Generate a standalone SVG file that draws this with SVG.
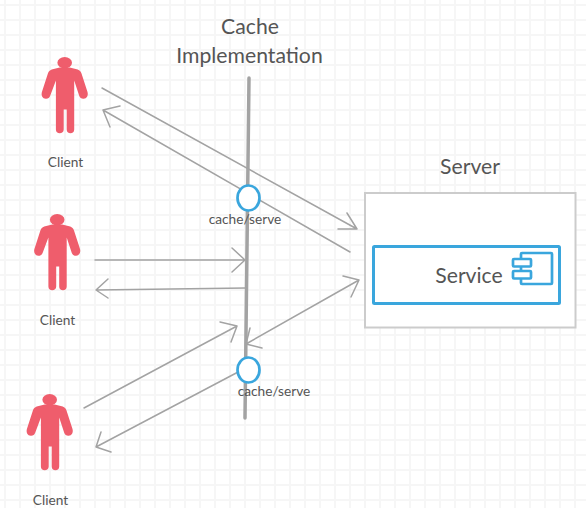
<svg xmlns="http://www.w3.org/2000/svg" width="586" height="508" viewBox="0 0 586 508">
<defs>
<style>
text{font-family:Lato,"Liberation Sans",sans-serif;fill:#555}
.t{font-size:21.200px;text-anchor:middle}
.s{font-size:13.700px;text-anchor:middle}
.c{fill:none;stroke:#a3a3a3;stroke-width:1.500;stroke-linecap:round;stroke-linejoin:round}
.b{fill:#fff;stroke:#3aa6dd;stroke-width:2.700;stroke-linejoin:round}
.p{fill:#ef5d6c}
</style>
<pattern id="g" width="15" height="15" patternUnits="userSpaceOnUse" x="4" y="4"><path d="M0 1H15M1 0V15" fill="none" stroke="#f6f6f6" stroke-width="2"/></pattern>
<g id="person"><ellipse class="p" cx="0" cy="5.700" rx="7.300" ry="5.700"/><path class="p" d="M-5 10.500L5 10.500L13 12.500C15 13.300 16 14.300 16.800 16.500L22.800 35C23.800 38.800 22 41.500 19 41.800C16.800 42 15.200 40.800 14.500 38.800L9.500 23.500V72.500C9.500 75 8 76.300 5.800 76.300C3.500 76.300 2 75 2 72.500V52.500H-1V72.500C-1 75 -2.800 76.300 -5 76.300C-7.200 76.300 -8.800 75 -8.800 72.500V23.500L-14.500 38.800C-15.200 40.800 -16.800 42 -19 41.800C-22 41.500 -23.800 38.800 -22.800 35L-16.800 16.500C-16 14.300 -15 13.300 -13 12.500Z"/></g>
</defs>
<rect width="586" height="508" fill="#fff"/>
<rect width="586" height="508" fill="url(#g)"/>
<g id="connectors">
<path d="M249 78L245 418" fill="none" stroke="#a3a3a3" stroke-width="3.500" stroke-linecap="round"/>
<path class="c" d="M102 88L357 229M338 229L357 229L347 213"/>
<path class="c" d="M350 252L103 110M120 106L103 110L110 127"/>
<path class="c" d="M95 260L245 260M232 248L245 260L232 272"/>
<path class="c" d="M246 288L96 290M108 279L96 290L108 298"/>
<path class="c" d="M84 408L237 326M220 322L237 326L231 342"/>
<path class="c" d="M359 280L246 344M262 348L246 344L250 328M343 276L359 280L351 297"/>
<path class="c" d="M240 371L96 447M111 452L96 447L101 432"/>
</g>
<g id="client1"><use href="#person" x="64.700" y="57"/><text class="s" x="65.500" y="167">Client</text></g>
<g id="client2"><use href="#person" x="57.200" y="214"/><text class="s" x="57.500" y="325">Client</text></g>
<g id="client3"><use href="#person" x="49.700" y="394"/><text class="s" x="50.500" y="505">Client</text></g>
<g id="title"><text class="t" x="250" y="34">Cache</text><text class="t" x="249.500" y="63">Implementation</text></g>
<g id="server"><rect x="365" y="193" width="210.500" height="134.500" fill="#fff" stroke="#ccc" stroke-width="2"/><text class="t" x="470" y="174">Server</text></g>
<g id="service"><rect x="373.500" y="246.500" width="186" height="57" rx="1" fill="#fff" stroke="#3aa6dd" stroke-width="3"/><text class="t" x="469" y="283">Service</text>
<rect x="521" y="253" width="31" height="31" rx="1" fill="none" stroke="#3aa6dd" stroke-width="2.700"/><rect x="513" y="259" width="18" height="7.500" rx="1" class="b"/><rect x="513" y="271" width="18" height="7.500" rx="1" class="b"/></g>
<g id="cache1"><ellipse cx="248.500" cy="198" rx="11" ry="12.500" class="b"/><text class="s" x="245" y="224">cache/serve</text></g>
<g id="cache2"><ellipse cx="248.500" cy="370" rx="11" ry="12.500" class="b"/><text class="s" x="274" y="396">cache/serve</text></g>
</svg>
